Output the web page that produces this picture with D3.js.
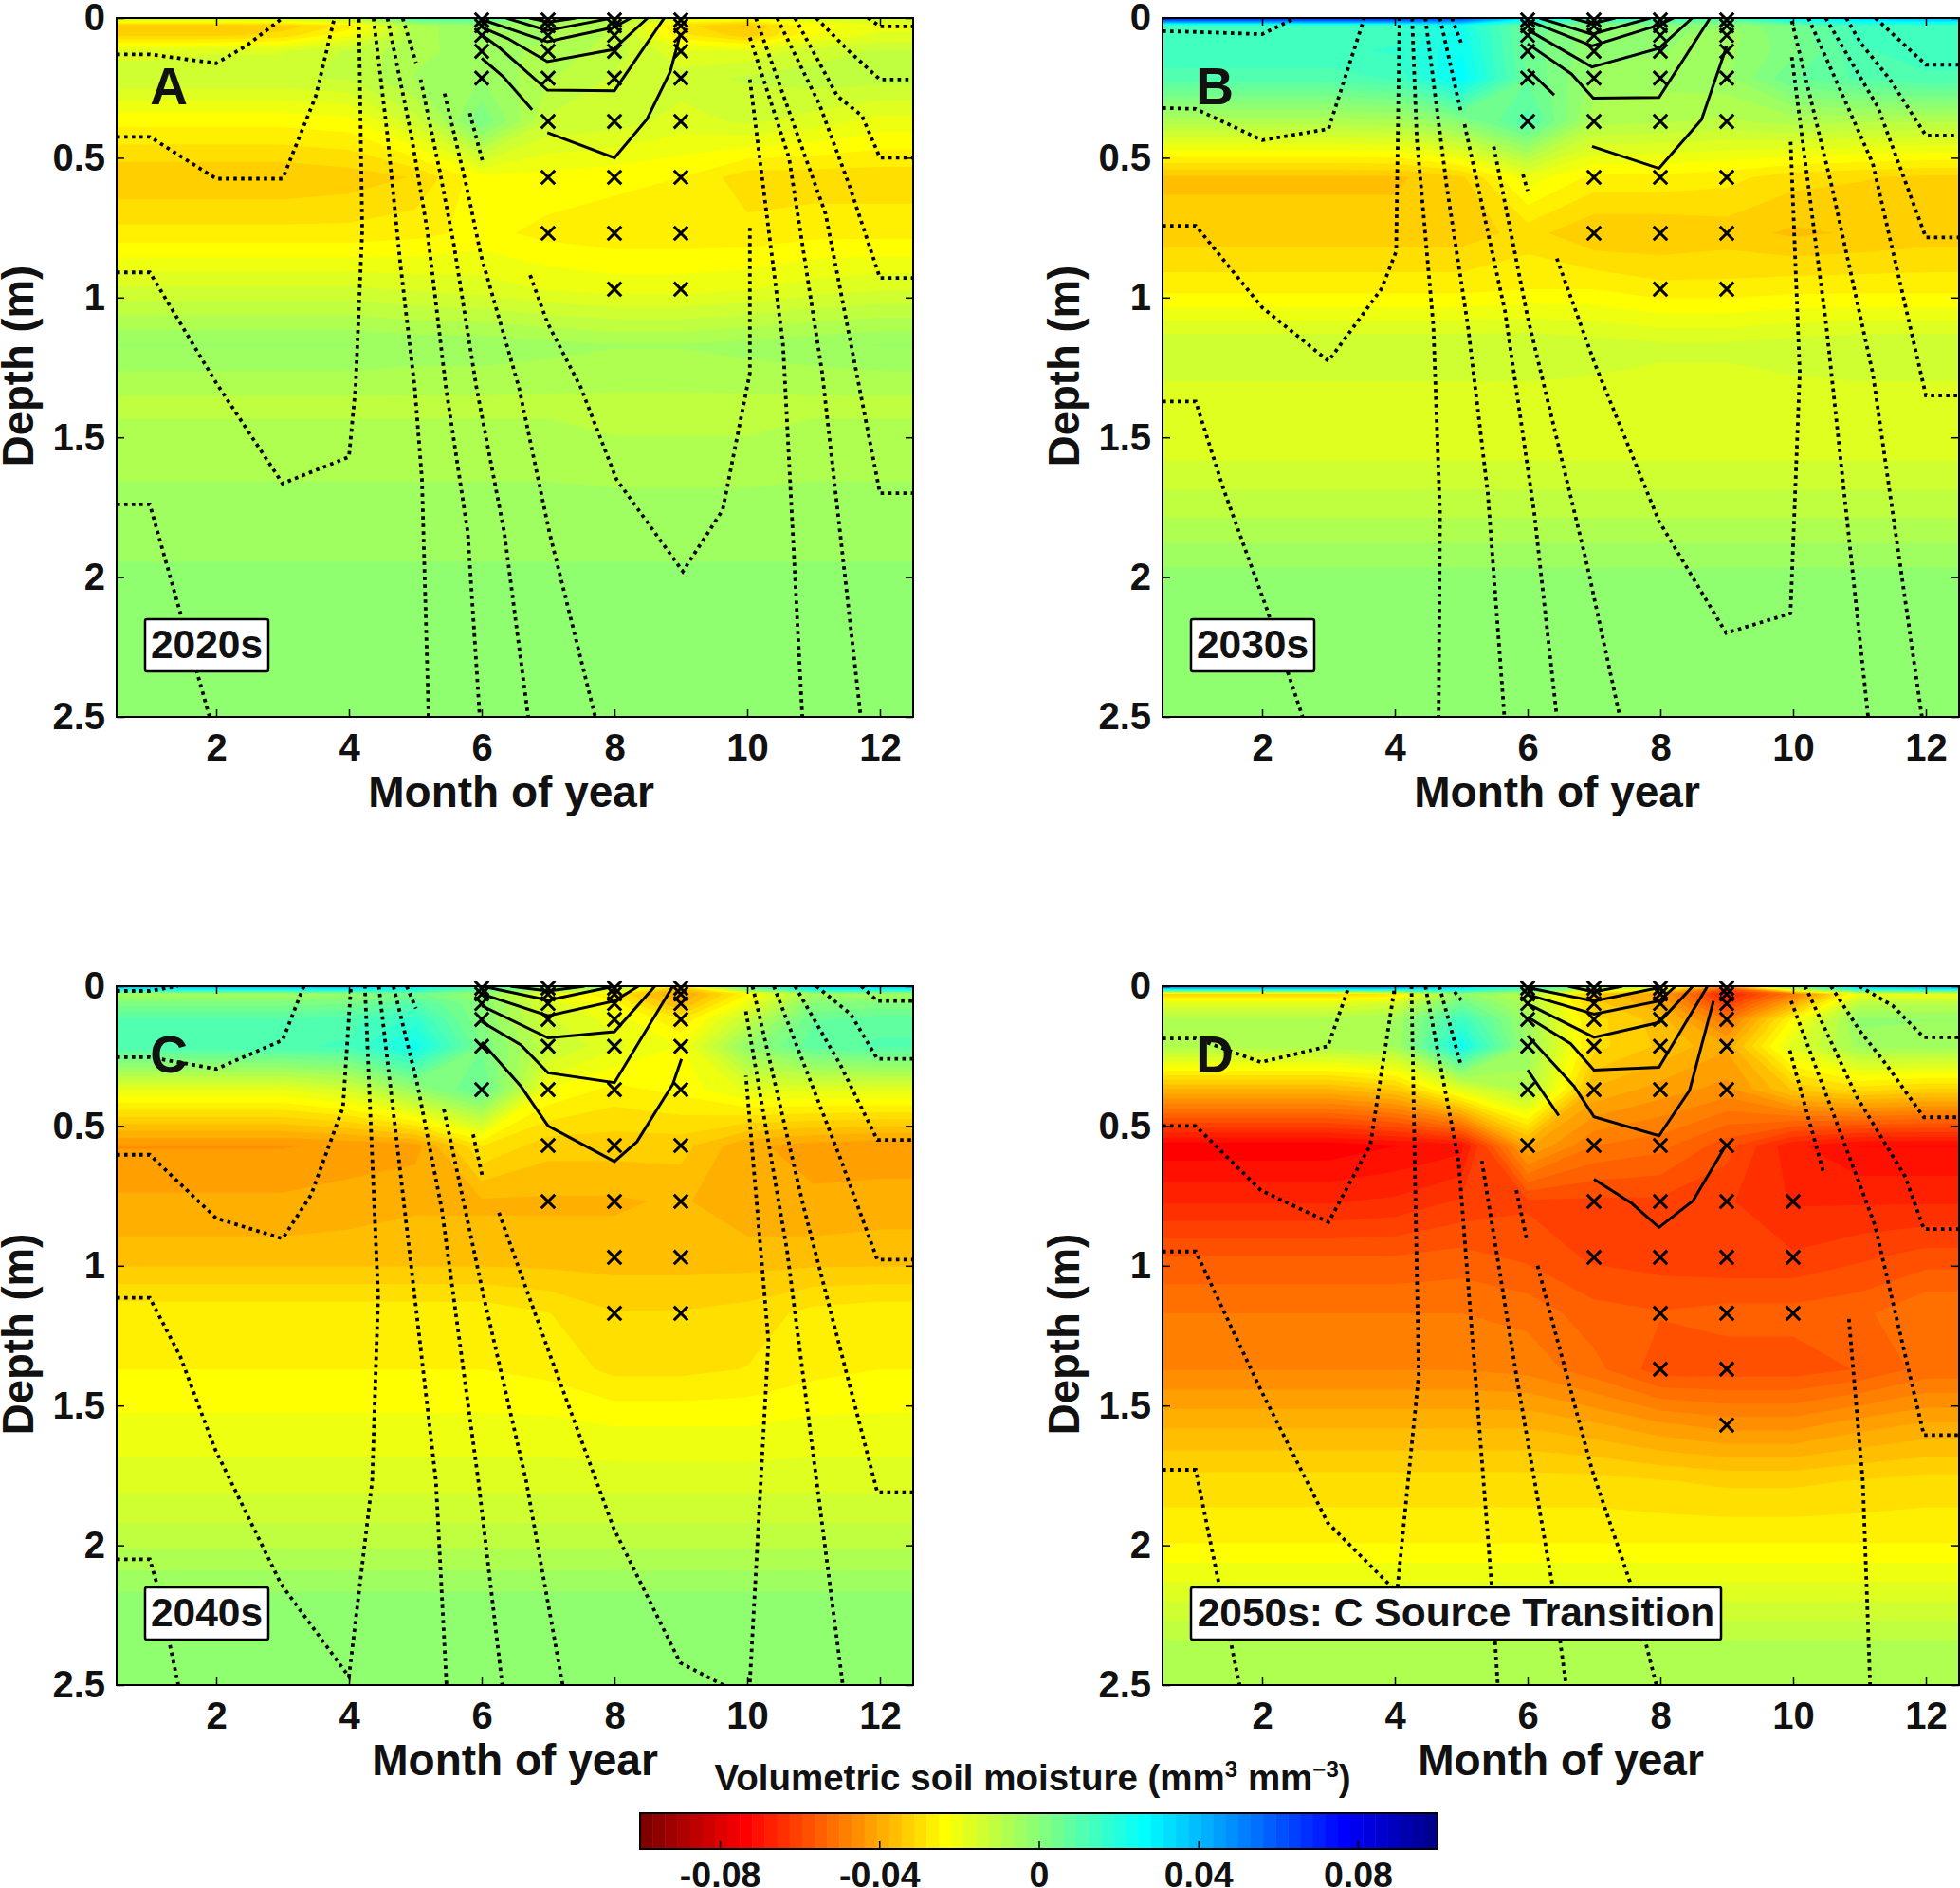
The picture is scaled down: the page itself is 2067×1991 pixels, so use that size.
<!DOCTYPE html>
<html>
<head>
<meta charset="utf-8">
<script src="https://cdn.jsdelivr.net/npm/d3@7"></script>
<style>
    html, body { margin: 0; background: #fff; }
    svg { display: block; }
    text { font-family: "Liberation Sans", Arial, sans-serif; font-weight: bold; fill: #111; }
</style>
</head>
<body>
<svg id="chart" width="2067" height="1991"></svg>
<script>
const months = [1, 2, 3, 4, 5, 6, 7, 8, 9, 10, 11, 12];
const monthTicks = [2, 4, 6, 8, 10, 12];
const depthTicks = [0, 0.5, 1, 1.5, 2, 2.5];
const colorTicks = [-0.08, -0.04, 0, 0.04, 0.08];
const depths = [0, 0.007, 0.028, 0.062, 0.119, 0.215, 0.37, 0.57, 0.77, 0.97, 1.17, 1.37, 1.57, 1.77, 1.97, 2.17, 2.37, 2.5];
const crossDepths = depths.slice(1, 13);

// soil moisture change per depth row and month, in 0.001 mm3 mm-3
const fieldA = [
    [-5, -5, -5, -3, 20, 25, 10, 5, 0, -3, -5, -5],
    [-18, -18, -18, -15, 6, 6, -3, -8, -22, -25, -18, -15],
    [-34, -34, -33, -27, -8, -3, -7, -10, -30, -35, -23, -20],
    [-32, -32, -30, -22, -8, -3, -6, -10, -27, -33, -22, -18],
    [-17, -16, -16, -12, -7, -5, -7, -11, -18, -18, -14, -12],
    [-13, -13, -13, -12, -6, -3, -9, -13, -14, -12, -11, -11],
    [-24, -24, -24, -23, -14, 3, -13, -14, -17, -15, -17, -20],
    [-34, -34, -34, -33, -31, -23, -23, -24, -25, -30, -30, -30],
    [-27, -27, -27, -27, -26, -24, -26, -27, -27, -27, -26, -26],
    [-15, -15, -15, -15, -16, -17, -19, -20, -20, -19, -17, -16],
    [-3, -3, -3, -3, -4, -4, -5, -6, -6, -5, -4, -3],
    [-10, -10, -10, -10, -10, -10, -10, -10, -10, -10, -10, -10],
    [-8, -8, -8, -8, -8, -8, -8, -9, -9, -9, -8, -8],
    [-4, -4, -4, -4, -4, -4, -4, -4, -4, -4, -4, -4],
    [-3, -3, -3, -3, -3, -3, -3, -3, -3, -3, -3, -3],
    [-3, -3, -3, -3, -3, -3, -3, -3, -3, -3, -3, -3],
    [-3, -3, -3, -3, -3, -3, -3, -3, -3, -3, -3, -3],
    [-3, -3, -3, -3, -3, -3, -3, -3, -3, -3, -3, -3]
];
const fieldB = [
    [72, 72, 72, 72, 62, 30, 18, 18, 14, 28, 35, 40],
    [60, 60, 60, 60, 55, 25, 12, 12, 8, 22, 30, 35],
    [14, 14, 14, 14, 22, 5, 0, 0, -3, 3, 14, 14],
    [14, 14, 14, 15, 24, 5, -2, -2, -5, 3, 14, 14],
    [15, 15, 15, 16, 25, 5, -2, -3, -4, 2, 12, 14],
    [11, 11, 11, 13, 27, 6, -4, -5, -4, 6, 10, 12],
    [-8, -8, -8, -7, 0, 11, -8, -9, -10, -8, -9, -9],
    [-35, -35, -35, -35, -32, -20, -26, -26, -27, -30, -31, -32],
    [-33, -33, -33, -33, -33, -30, -34, -34, -33, -35, -34, -33],
    [-26, -26, -26, -26, -26, -25, -25, -27, -27, -26, -26, -26],
    [-13, -13, -13, -13, -13, -13, -14, -15, -15, -14, -13, -13],
    [-17, -17, -17, -17, -17, -17, -17, -17, -17, -17, -17, -17],
    [-16, -16, -16, -16, -16, -16, -16, -16, -16, -16, -16, -16],
    [-10, -10, -10, -10, -10, -10, -10, -10, -10, -10, -10, -10],
    [-3, -3, -3, -3, -3, -3, -3, -3, -3, -3, -3, -3],
    [-3, -3, -3, -3, -3, -3, -3, -3, -3, -3, -3, -3],
    [-3, -3, -3, -3, -3, -3, -3, -3, -3, -3, -3, -3],
    [-3, -3, -3, -3, -3, -3, -3, -3, -3, -3, -3, -3]
];
const fieldC = [
    [42, 42, 42, 42, 32, 18, 8, 0, -30, 12, 35, 38],
    [32, 32, 32, 32, 25, 10, 0, -8, -35, 5, 28, 30],
    [-6, -6, -6, -3, 4, -3, -20, -28, -42, -25, -5, -5],
    [2, 2, 2, 3, 10, 0, -17, -24, -38, -20, 0, 1],
    [10, 10, 10, 11, 17, 0, -15, -20, -28, -12, 6, 8],
    [12, 12, 12, 13, 24, 3, -12, -18, -22, -2, 8, 10],
    [-19, -19, -19, -15, -3, 7, -22, -26, -24, -18, -18, -18],
    [-44, -44, -44, -43, -42, -28, -33, -33, -33, -40, -42, -43],
    [-40, -40, -40, -39, -38, -38, -38, -38, -37, -40, -40, -39],
    [-36, -36, -36, -36, -36, -36, -36, -36, -36, -36, -36, -36],
    [-26, -26, -26, -26, -26, -26, -28, -31, -31, -30, -27, -26],
    [-25, -25, -25, -25, -25, -25, -26, -29, -29, -28, -26, -25],
    [-21, -21, -21, -21, -21, -21, -21, -22, -22, -22, -21, -21],
    [-17, -17, -17, -17, -17, -17, -17, -17, -17, -17, -17, -17],
    [-11, -11, -11, -11, -11, -11, -11, -11, -11, -11, -11, -11],
    [-3, -3, -3, -3, -3, -3, -3, -3, -3, -3, -3, -3],
    [-3, -3, -3, -3, -3, -3, -3, -3, -3, -3, -3, -3],
    [-3, -3, -3, -3, -3, -3, -3, -3, -3, -3, -3, -3]
];
const fieldD = [
    [52, 52, 52, 52, 42, 22, 5, -10, -45, 5, 38, 42],
    [40, 40, 40, 40, 30, 15, -5, -20, -55, -5, 30, 35],
    [-32, -32, -32, -28, -2, -10, -35, -42, -68, -50, -20, -20],
    [-18, -18, -18, -15, 5, -8, -33, -40, -62, -40, -10, -10],
    [-8, -8, -8, -6, 15, -5, -30, -36, -50, -24, -2, -3],
    [-8, -8, -8, -6, 24, -4, -30, -35, -40, -17, -5, -5],
    [-38, -38, -38, -34, -18, -8, -38, -42, -45, -34, -30, -32],
    [-74, -74, -74, -72, -70, -40, -50, -52, -58, -68, -72, -72],
    [-66, -66, -66, -65, -62, -60, -60, -60, -62, -66, -66, -66],
    [-56, -56, -56, -56, -55, -57, -60, -61, -62, -62, -60, -58],
    [-50, -50, -50, -50, -50, -51, -55, -56, -55, -55, -54, -50],
    [-47, -47, -47, -47, -47, -48, -52, -58, -58, -58, -56, -52],
    [-38, -38, -38, -38, -38, -38, -40, -43, -45, -45, -42, -40],
    [-30, -30, -30, -30, -30, -30, -30, -31, -32, -32, -31, -30],
    [-26, -26, -26, -26, -26, -26, -26, -26, -26, -26, -26, -26],
    [-17, -17, -17, -17, -17, -17, -17, -17, -17, -17, -17, -17],
    [-8, -8, -8, -8, -8, -8, -8, -8, -8, -8, -8, -8],
    [-7, -7, -7, -7, -7, -7, -7, -7, -7, -7, -7, -7]
];

// crosses: how many of the crossDepths are marked in each month
const crossesA = [[6, 0, 5], [7, 0, 8], [8, 0, 9], [9, 0, 9]];
const crossesB = [[6, 0, 6], [7, 0, 8], [8, 0, 9], [9, 0, 9]];
const crossesC = [[6, 0, 6], [7, 0, 8], [8, 0, 10], [9, 0, 10]];
const crossesD = [[6, 0, 7], [7, 0, 9], [8, 0, 11], [9, 0, 12], [10, 7, 10]];

// contour lines as [month, depth] points
const dottedA = [
    [[0.5, 0.13], [1, 0.13], [2, 0.162], [2.45, 0.1], [3, 0]],
    [[0.5, 0.425], [1, 0.425], [2, 0.575], [3, 0.575], [3.5, 0.28], [3.78, 0]],
    [[0.5, 0.91], [1, 0.91], [2, 1.305], [3, 1.665], [4, 1.57], [4.1, 1.32], [4.2, 0.76], [4.15, 0]],
    [[0.5, 1.74], [1, 1.74], [1.9, 2.5]],
    [[4.37, 0], [4.58, 0.42], [4.77, 0.87], [4.99, 1.32], [5.1, 1.65], [5.2, 2.5]],
    [[4.58, 0], [4.94, 0.42], [5.18, 0.76], [5.46, 1.32], [5.79, 1.84], [5.97, 2.5]],
    [[4.81, 0], [5.01, 0.16]],
    [[5.08, 0.22], [5.37, 0.55], [5.58, 0.81], [5.92, 1.32], [6.34, 1.84], [6.7, 2.5]],
    [[5.44, 0.27], [5.77, 0.6], [5.99, 0.85], [6.56, 1.32], [7.02, 1.84], [7.71, 2.5]],
    [[5.82, 0.34], [6.01, 0.51]],
    [[6.73, 0.92], [6.99, 1.09], [7.49, 1.32], [8.03, 1.65], [9.03, 1.98], [9.63, 1.76], [10.04, 1.27], [10.04, 0.75]],
    [[10.04, 0.22], [10.54, 1.17], [10.83, 2.5]],
    [[10.04, 0.07], [10.63, 0.5], [11.13, 1.27], [11.71, 2.5]],
    [[11.82, 0], [12, 0.03], [12.5, 0.03]],
    [[11.04, 0], [11.54, 0.12], [12, 0.22], [12.5, 0.22]],
    [[10.72, 0], [11.36, 0.28], [11.73, 0.35], [12, 0.5], [12.5, 0.5]],
    [[10.45, 0], [11.09, 0.31], [11.54, 0.6], [12, 0.93], [12.5, 0.93]],
    [[10.13, 0], [11.18, 0.7], [12, 1.7], [12.5, 1.7]]
];
const solidA = [
    [[6.72, 0], [7.01, 0.014], [7.42, 0]],
    [[6.37, 0], [6.99, 0.045], [7.9, 0.003]],
    [[6.01, 0.006], [6.99, 0.085], [7.98, 0.034], [8.25, 0]],
    [[6.01, 0.034], [6.39, 0.073], [6.99, 0.156], [7.98, 0.113], [8.5, 0]],
    [[6.01, 0.062], [6.27, 0.107], [6.99, 0.258], [8, 0.26], [8.75, 0]],
    [[6, 0.144], [6.32, 0.209], [6.76, 0.328]],
    [[6.99, 0.41], [8, 0.5], [8.49, 0.362], [8.84, 0.192], [8.99, 0.06]]
];
const dottedB = [
    [[0.5, 0.047], [1, 0.05], [2, 0.058], [2.5, 0]],
    [[0.5, 0.322], [1, 0.325], [2, 0.437], [3, 0.397], [3.54, 0]],
    [[0.5, 0.743], [1, 0.743], [2, 1.035], [3, 1.227], [3.8, 0.968], [4.02, 0.835], [4.07, 0]],
    [[0.5, 1.372], [1, 1.372], [1.42, 1.686], [2.08, 2.12], [2.61, 2.5]],
    [[4.26, 0], [4.33, 0.43], [4.58, 1.1], [4.68, 1.77], [4.66, 2.5]],
    [[4.46, 0], [4.78, 0.6], [5.1, 1.1], [5.4, 1.7], [5.65, 2.5]],
    [[4.68, 0], [4.99, 0.33]],
    [[4.86, 0], [5, 0.09]],
    [[5.05, 0.38], [5.66, 1.05], [6.1, 1.77], [6.44, 2.5]],
    [[5.49, 0.46], [6, 1.07], [6.88, 1.94], [7.39, 2.5]],
    [[5.93, 0.56], [6, 0.618]],
    [[6.44, 0.86], [7.01, 1.235], [7.98, 1.8], [8.99, 2.2], [9.96, 2.13], [10.1, 1.27], [9.96, 0.43]],
    [[9.98, 0.14], [10.5, 1.1], [11.13, 2.5]],
    [[9.98, 0.01], [10.58, 0.6], [11.2, 1.27], [11.94, 2.5]],
    [[11.24, 0], [12, 0.167], [12.5, 0.167]],
    [[10.8, 0], [11.02, 0.09], [11.46, 0.22], [12, 0.42], [12.5, 0.42]],
    [[10.49, 0], [11.28, 0.32], [12, 0.785], [12.5, 0.785]],
    [[10.23, 0], [11.2, 0.52], [12, 1.35], [12.5, 1.35]]
];
const solidB = [
    [[6.66, 0], [6.97, 0.02], [7.32, 0]],
    [[6.18, 0], [6.97, 0.058], [7.85, 0]],
    [[6, 0.008], [6.97, 0.1], [7.98, 0.025], [8.2, 0]],
    [[6, 0.042], [6.97, 0.175], [7.98, 0.108], [8.48, 0]],
    [[6, 0.092], [6.66, 0.2], [6.99, 0.287], [7.98, 0.284], [8.75, 0]],
    [[6, 0.184], [6.4, 0.275]],
    [[6.97, 0.459], [7.98, 0.538], [8.62, 0.364], [9, 0.1]]
];
const dottedC = [
    [[0.5, 0.017], [1, 0.017], [1.42, 0]],
    [[0.5, 0.254], [1, 0.254], [2, 0.296], [3, 0.193], [3.32, 0]],
    [[0.5, 0.603], [1, 0.603], [2, 0.83], [3, 0.903], [3.43, 0.746], [3.91, 0.433], [4.03, 0]],
    [[0.5, 1.115], [1, 1.115], [1.46, 1.325], [1.98, 1.655], [2.98, 2.14], [4, 2.47], [4.35, 1.77], [4.44, 1.11], [4.24, 0]],
    [[0.5, 2.05], [1, 2.05], [1.12, 2.15], [1.43, 2.5]],
    [[4.45, 0], [4.91, 0.945], [5.31, 1.77], [5.47, 2.5]],
    [[4.67, 0], [5.03, 0.35], [5.4, 0.8], [5.95, 1.77], [6.31, 2.5]],
    [[4.87, 0], [5.01, 0.08]],
    [[5.43, 0.44], [6.03, 1.11], [6.67, 1.77], [7.22, 2.5]],
    [[5.87, 0.53], [6.01, 0.68]],
    [[6.26, 0.81], [7.03, 1.32], [7.99, 1.94], [8.99, 2.42], [9.64, 2.5]],
    [[10.04, 2.49], [10.32, 1.27], [9.98, 0.32]],
    [[9.98, 0.09], [10.6, 0.945], [11.44, 2.5]],
    [[10.08, 0], [10.84, 0.78], [11.96, 1.81], [12.5, 1.81]],
    [[10.4, 0], [11.4, 0.614], [11.96, 0.978], [12.5, 0.978]],
    [[10.72, 0], [11.4, 0.28], [11.96, 0.55], [12.5, 0.55]],
    [[11.04, 0], [11.56, 0.1], [11.96, 0.26], [12.5, 0.26]],
    [[11.72, 0], [11.96, 0.053], [12.5, 0.053]]
];
const solidC = [
    [[6.43, 0], [7, 0.017], [7.55, 0]],
    [[6.01, 0], [7, 0.05], [8, 0]],
    [[6, 0.028], [7, 0.106], [8, 0.053], [8.36, 0]],
    [[6, 0.07], [7, 0.185], [8, 0.163], [8.61, 0]],
    [[6, 0.127], [6.59, 0.21], [7, 0.31], [8, 0.345], [8.88, 0]],
    [[6, 0.2], [6.59, 0.358], [7, 0.5], [8, 0.627], [8.34, 0.556], [8.88, 0.35], [9.01, 0.26]]
];
const dottedD = [
    [[0.5, 0.187], [1, 0.187], [1.98, 0.272], [2.99, 0.215], [3.31, 0]],
    [[0.5, 0.5], [1, 0.5], [1.98, 0.73], [3, 0.844], [3.63, 0.568], [4, 0]],
    [[0.5, 0.949], [1, 0.949], [1.98, 1.444], [2.99, 1.92], [4, 2.16]],
    [[4.04, 2.15], [4.36, 1.39], [4.25, 0]],
    [[0.5, 1.73], [1, 1.73], [1.66, 2.5]],
    [[4.46, 0], [4.96, 0.625], [5.46, 2.15], [5.55, 2.5]],
    [[4.67, 0], [5, 0.286]],
    [[4.9, 0.02], [5, 0.05]],
    [[5.31, 0.625], [5.83, 1.39], [6.38, 2.15], [6.58, 2.5]],
    [[5.83, 0.73], [5.99, 0.91]],
    [[6.15, 1], [6.97, 1.73], [7.57, 2.15], [7.94, 2.5]],
    [[9.95, 0.23], [10.45, 0.66]],
    [[10.84, 1.19], [11.05, 1.77], [11.16, 2.5]],
    [[11, 0], [11.5, 0.07], [11.97, 0.183], [12.5, 0.183]],
    [[10.57, 0], [11, 0.158], [11.41, 0.282], [11.97, 0.469], [12.5, 0.469]],
    [[10.18, 0], [10.96, 0.396], [11.69, 0.682], [11.97, 0.869], [12.5, 0.869]],
    [[9.97, 0.053], [11.23, 0.853], [11.97, 1.606], [12.5, 1.606]]
];
const solidD = [
    [[6.61, 0], [7, 0.02], [7.43, 0]],
    [[6, 0.005], [7, 0.053], [7.98, 0.005]],
    [[6, 0.03], [7, 0.1], [7.98, 0.053], [8.23, 0]],
    [[6, 0.063], [7, 0.183], [7.98, 0.13], [8.49, 0]],
    [[6, 0.11], [6.65, 0.206], [7, 0.3], [7.98, 0.29], [8.71, 0]],
    [[6, 0.177], [6.7, 0.358], [7, 0.467], [7.98, 0.535], [8.44, 0.373], [8.8, 0.053]],
    [[6, 0.3], [6.47, 0.463]],
    [[7, 0.69], [7.57, 0.777], [7.98, 0.863], [8.49, 0.768], [8.99, 0.568]]
];

const panels = [
    { letter: 'A', tag: '2020s', left: 123, top: 19, field: fieldA, crosses: crossesA, dotted: dottedA, solid: solidA, boxWidth: 130, labelShift: 0 },
    { letter: 'B', tag: '2030s', left: 1226, top: 19, field: fieldB, crosses: crossesB, dotted: dottedB, solid: solidB, boxWidth: 130, labelShift: 0 },
    { letter: 'C', tag: '2040s', left: 123, top: 1040, field: fieldC, crosses: crossesC, dotted: dottedC, solid: solidC, boxWidth: 130, labelShift: 4 },
    { letter: 'D', tag: '2050s: C Source Transition', left: 1226, top: 1040, field: fieldD, crosses: crossesD, dotted: dottedD, solid: solidD, boxWidth: 559, labelShift: 4 }
];

const width = 840, height = 737;
const svg = d3.select('#chart');

// flipud(jet(64)) as matlab builds it
function jetColor(i) {
    const t = (i + 1) / 64;
    const f = (a, b) => Math.round(255 * Math.max(0, Math.min(1, Math.min(4 * t + a, -4 * t + b))));
    return `rgb(${f(-1.5, 4.5)},${f(-0.5, 3.5)},${f(0.5, 2.5)})`;
}
const bandColor = i => jetColor(63 - i);
const levels = d3.range(64).map(i => -100 + i * 3.125);

// contourf columns: month 1 and 12 repeated out to the axis limits
const columnMonths = [0.5, ...months, 12.5];

function drawPanel(p, index) {
    const g = svg.append('g').attr('transform', `translate(${p.left},${p.top})`);
    const x = d3.scaleLinear().domain([0.5, 12.5]).range([0, width]);
    const y = d3.scaleLinear().domain([0, 2.5]).range([0, height]);

    const clipId = `clip${index}`;
    g.append('clipPath').attr('id', clipId).append('rect').attr('width', width).attr('height', height);

    const values = [];
    p.field.forEach(row => {
        values.push(row[0], ...row, row[11]);
    });

    const colToMonth = d3.scaleLinear().domain(columnMonths.map((m, i) => i + 0.5)).range(columnMonths).clamp(true);
    const rowToDepth = d3.scaleLinear().domain(depths.map((d, i) => i + 0.5)).range(depths).clamp(true);
    const path = d3.geoPath(d3.geoTransform({
        point(cx, cy) {
            this.stream.point(x(colToMonth(cx)), y(rowToDepth(cy)));
        }
    }));
    const contours = d3.contours().size([columnMonths.length, depths.length]).thresholds(levels)(values);

    const plot = g.append('g').attr('clip-path', `url(#${clipId})`);
    plot.selectAll('path.band').data(contours).join('path')
        .attr('class', 'band')
        .attr('d', path)
        .attr('fill', (d, i) => bandColor(i));

    const line = d3.line().x(d => x(d[0])).y(d => y(d[1]));
    plot.selectAll('path.dotted').data(p.dotted).join('path')
        .attr('class', 'dotted')
        .attr('d', line)
        .attr('fill', 'none')
        .attr('stroke', '#000')
        .attr('stroke-width', 3.8)
        .attr('stroke-dasharray', '3.6 4.4');
    plot.selectAll('path.solid').data(p.solid).join('path')
        .attr('class', 'solid')
        .attr('d', line)
        .attr('fill', 'none')
        .attr('stroke', '#000')
        .attr('stroke-width', 3);

    const crossPts = [];
    p.crosses.forEach(c => {
        crossDepths.slice(c[1], c[2]).forEach(d => crossPts.push([c[0], d]));
    });
    const crossPath = d3.symbol().type(d3.symbolTimes).size(140)();
    g.selectAll('path.cross').data(crossPts).join('path')
        .attr('class', 'cross')
        .attr('d', crossPath)
        .attr('transform', d => `translate(${x(d[0])},${y(d[1])})`)
        .attr('fill', 'none')
        .attr('stroke', '#000')
        .attr('stroke-width', 3);

    // frame and axes
    g.append('rect').attr('width', width).attr('height', height)
        .attr('fill', 'none').attr('stroke', '#000').attr('stroke-width', 2);

    const xAxis = g.append('g').attr('transform', `translate(0,${height})`)
        .call(d3.axisBottom(x).tickValues(monthTicks).tickSize(-8).tickPadding(18).tickFormat(d3.format('d')));
    const yAxis = g.append('g')
        .call(d3.axisLeft(y).tickValues(depthTicks).tickSize(-8).tickPadding(12).tickFormat(d => String(d)));
    const topAxis = g.append('g').call(d3.axisTop(x).tickValues(monthTicks).tickSize(-8));
    const rightAxis = g.append('g').attr('transform', `translate(${width},0)`)
        .call(d3.axisRight(y).tickValues(depthTicks).tickSize(-8));
    topAxis.selectAll('text').remove();
    rightAxis.selectAll('text').remove();
    g.selectAll('.domain').remove();
    g.selectAll('.tick line').attr('stroke', '#000').attr('stroke-width', 1.5);
    xAxis.selectAll('text').attr('font-size', 40).style('font-family', '"Liberation Sans"').style('font-weight', 'bold');
    yAxis.selectAll('text').attr('font-size', 40).style('font-family', '"Liberation Sans"').style('font-weight', 'bold');

    g.append('text')
        .attr('x', width / 2 - 4 + p.labelShift).attr('y', height + 95)
        .attr('text-anchor', 'middle').attr('font-size', 46)
        .text('Month of year');
    g.append('text')
        .attr('transform', `translate(${-88},${367}) rotate(-90)`)
        .attr('text-anchor', 'middle').attr('font-size', 45.5)
        .text('Depth (m)');

    g.append('text').attr('x', 55).attr('y', 91)
        .attr('text-anchor', 'middle').attr('font-size', 55)
        .text(p.letter);

    const box = g.append('g').attr('transform', `translate(30,634)`);
    box.append('rect').attr('width', p.boxWidth).attr('height', 55).attr('rx', 2)
        .attr('fill', '#fff').attr('stroke', '#000').attr('stroke-width', 2.5);
    box.append('text').attr('x', p.boxWidth / 2).attr('y', 41)
        .attr('text-anchor', 'middle').attr('font-size', 42.5)
        .text(p.tag);
}

panels.forEach(drawPanel);

// colour bar
const barX = d3.scaleLinear().domain([-0.1, 0.1]).range([675, 1516]);
const barY = 1912, barH = 38;
const barBands = d3.range(64);
svg.append('g').selectAll('rect').data(barBands).join('rect')
    .attr('x', i => barX(-0.1 + i * 0.003125))
    .attr('y', barY)
    .attr('width', i => barX(-0.1 + (i + 1) * 0.003125) - barX(-0.1 + i * 0.003125) + 0.5)
    .attr('height', barH)
    .attr('fill', i => bandColor(i));
svg.append('rect').attr('x', 675).attr('y', barY).attr('width', 841).attr('height', barH)
    .attr('fill', 'none').attr('stroke', '#000').attr('stroke-width', 2);
const barAxis = svg.append('g').attr('transform', `translate(0,${barY + barH})`)
    .call(d3.axisBottom(barX).tickValues(colorTicks).tickSize(-9).tickPadding(13).tickFormat(d => String(d)));
barAxis.select('.domain').remove();
barAxis.selectAll('.tick line').attr('stroke', '#000').attr('stroke-width', 1.5);
barAxis.selectAll('text').attr('font-size', 37.5).style('font-family', '"Liberation Sans"').style('font-weight', 'bold');

const barLabel = svg.append('text').attr('x', 1089).attr('y', 1888)
    .attr('text-anchor', 'middle').attr('font-size', 38.5);
barLabel.append('tspan').text('Volumetric soil moisture (mm');
barLabel.append('tspan').attr('dy', -14).attr('font-size', 24).text('3');
barLabel.append('tspan').attr('dy', 14).text(' mm');
barLabel.append('tspan').attr('dy', -14).attr('font-size', 24).text('−3');
barLabel.append('tspan').attr('dy', 14).text(')');
</script>
</body>
</html>
